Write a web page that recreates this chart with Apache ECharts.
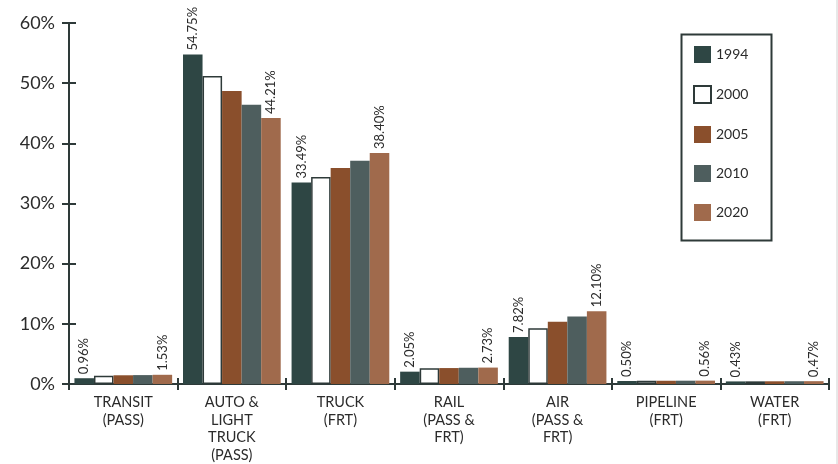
<!DOCTYPE html>
<html>
<head>
<meta charset="utf-8">
<script src="https://cdn.jsdelivr.net/npm/echarts@6/dist/echarts.min.js"></script>
<style>
html,body{margin:0;padding:0;background:#fff;}
#chart{width:838px;height:464px;}
</style>
</head>
<body>
<div id="chart"></div>
<script>
var categories = ['TRANSIT\n(PASS)', 'AUTO &\nLIGHT\nTRUCK\n(PASS)', 'TRUCK\n(FRT)', 'RAIL\n(PASS &\nFRT)', 'AIR\n(PASS &\nFRT)', 'PIPELINE\n(FRT)', 'WATER\n(FRT)'];
var years = ['1994', '2000', '2005', '2010', '2020'];
var v1994 = [0.96, 54.75, 33.49, 2.05, 7.82, 0.50, 0.43];
var v2000 = [1.38, 51.2, 34.4, 2.6, 9.25, 0.52, 0.44];
var v2005 = [1.45, 48.7, 35.9, 2.65, 10.35, 0.54, 0.45];
var v2010 = [1.48, 46.4, 37.1, 2.7, 11.2, 0.55, 0.46];
var v2020 = [1.53, 44.21, 38.40, 2.73, 12.10, 0.56, 0.47];
var yTicks = [0, 10, 20, 30, 40, 50, 60];

var FONT = 'Lato';
var AX = '#2e3a39';
var TXT = '#2b2b2b';
var seriesValues = [v1994, v2000, v2005, v2010, v2020];
var fills = ['#2e4644', '#ffffff', '#8a4f2c', '#4e5e5e', '#a06a4c'];
var showLabel = [true, false, false, false, true];

var series = years.map(function (y, i) {
  return {
    name: y,
    type: 'bar',
    data: seriesValues[i],
    barGap: '0%',
    barCategoryGap: '10%',
    itemStyle: i === 1 ? { color: '#ffffff', borderColor: AX, borderWidth: 1.5 } : { color: fills[i] },
    label: {
      show: showLabel[i],
      position: 'top',
      rotate: 90,
      align: 'left',
      verticalAlign: 'middle',
      distance: 4,
      fontFamily: FONT,
      fontSize: 13,
      color: TXT,
      formatter: function (p) { return p.value.toFixed(2) + '%'; }
    }
  };
});

var chart = echarts.init(document.getElementById('chart'));
chart.setOption({
  animation: false,
  backgroundColor: '#fff',
  grid: { left: 69, right: 9, top: 23, bottom: 80, containLabel: false },
  legend: {
    orient: 'vertical',
    left: 688,
    top: 41,
    icon: 'rect',
    itemWidth: 17,
    itemHeight: 17,
    itemGap: 22,
    data: years,
    textStyle: { fontFamily: FONT, fontSize: 14, color: TXT }
  },
  graphic: [
    { type: 'rect', left: 679, top: 32, shape: { width: 90, height: 206 }, style: { fill: 'none', stroke: AX, lineWidth: 2 } },
    { type: 'line', shape: { x1: 837, y1: 0, x2: 837, y2: 464 }, style: { stroke: '#d0d0d0', lineWidth: 1 } }
  ],
  xAxis: [{
    type: 'category',
    data: categories,
    axisLine: { lineStyle: { color: AX, width: 2 } },
    axisTick: { show: true, length: 6, lineStyle: { color: AX, width: 2 } },
    axisLabel: { fontFamily: FONT, fontSize: 14.5, color: TXT, lineHeight: 17.5, margin: 10, interval: 0 }
  }, {
    type: 'category',
    data: categories,
    position: 'bottom',
    offset: 0,
    axisLine: { show: false },
    axisTick: { show: true, inside: true, length: 6, lineStyle: { color: AX, width: 2 } },
    axisLabel: { show: false }
  }],
  yAxis: [{
    type: 'value',
    min: yTicks[0],
    max: yTicks[yTicks.length - 1],
    interval: 10,
    splitLine: { show: false },
    axisLine: { show: true, lineStyle: { color: AX, width: 2 } },
    axisTick: { show: true, length: 7, lineStyle: { color: AX, width: 2 } },
    axisLabel: { fontFamily: FONT, fontSize: 18, color: TXT, margin: 14, formatter: '{value}%' }
  }, {
    type: 'value',
    min: yTicks[0],
    max: yTicks[yTicks.length - 1],
    interval: 10,
    position: 'left',
    offset: 0,
    splitLine: { show: false },
    axisLine: { show: false },
    axisTick: { show: true, inside: true, length: 7, lineStyle: { color: AX, width: 2 } },
    axisLabel: { show: false }
  }],
  series: series
});
</script>
</body>
</html>
